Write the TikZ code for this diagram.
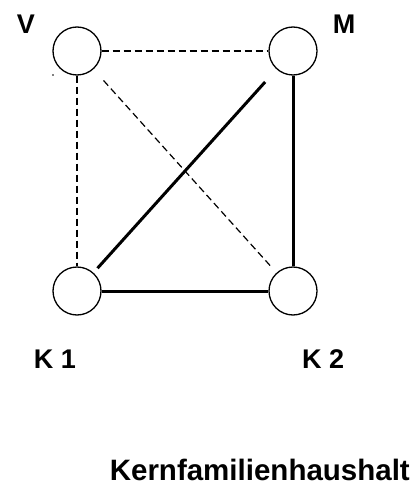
\documentclass[tikz,border=0pt]{standalone}
\usepackage{fontspec}
\setmainfont{Liberation Sans}
\begin{document}
\begin{tikzpicture}[x=1pt,y=-1pt,
  person/.style={circle,draw,line width=1.3pt,minimum size=48pt,inner sep=0pt},
  lbl/.style={font=\fontsize{27}{31}\selectfont\bfseries,inner sep=0pt},
  weak/.style={line width=1.2pt,dash pattern=on 7pt off 4pt},
  strong/.style={line width=3pt}]
\useasboundingbox (0,0) rectangle (411,500);
\node[person] (V) at (77,51) {};
\node[person] (M) at (293,51) {};
\node[person] (K1) at (77,291) {};
\node[person] (K2) at (293,291) {};
\node[lbl] (lV) at (26,24) {V};
\node[lbl] (lM) at (344,24) {M};
\node[lbl] (lK1) at (55,359) {K 1};
\node[lbl,anchor=west] (lK2) at (302,359) {K 2};
\node[lbl,font=\fontsize{29.5}{34}\selectfont\bfseries,anchor=east] (title) at (410,470) {Kernfamilienhaushalt};
\fill (53,75) circle (0.9);
\draw[weak] (V) -- (M);
\draw[weak] (V) -- (K1);
\draw[weak,shorten <=15pt,shorten >=8pt] (V) -- (K2);
\draw[strong,shorten <=17pt,shorten >=6pt] (M) -- (K1);
\draw[strong] (M) -- (K2);
\draw[strong] (K1) -- (K2);
\end{tikzpicture}
\end{document}
